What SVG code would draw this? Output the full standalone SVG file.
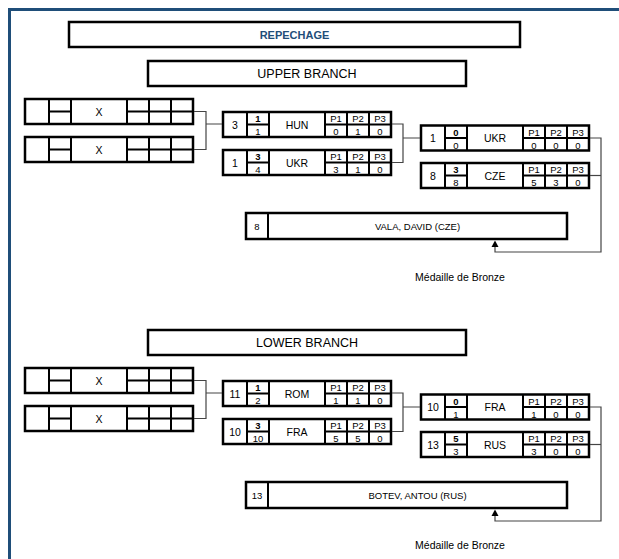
<svg xmlns="http://www.w3.org/2000/svg" xmlns:xlink="http://www.w3.org/1999/xlink" width="619" height="559" viewBox="0 0 619 559">
<style>
.bx{fill:#fff;stroke:#000;stroke-width:2.5}
.ln{stroke:#000;stroke-width:2;fill:none}
.cn{stroke:#444;stroke-width:1.2;fill:none}
.ah{fill:#000}
text{font-family:"Liberation Sans",Arial,sans-serif;fill:#000;text-anchor:middle}
.s{font-size:9.5px}
.b{font-weight:bold}
.n{font-size:10.5px}
.h{font-size:12.5px}
.m{font-size:10.5px}
</style>
<defs>
<g id="grid">
<rect class="bx" x="0" y="0" width="168" height="25"/>
<path class="ln" d="M24,0V25M46,0V25M102,0V25M124,0V25M146,0V25M24,12.5H46M102,12.5H168"/>
</g>
</defs>
<rect x="9.5" y="9.5" width="640" height="600" fill="none" stroke="#1f4e79" stroke-width="3"/>
<g id="title">
<rect class="bx" x="69" y="22" width="451" height="25"/>
<text x="294.5" y="38.5" class="b" style="font-size:11px;fill:#1f4e79">REPECHAGE</text>
</g>
<g id="upper-branch">
<rect class="bx" x="148" y="61" width="318" height="25"/>
<text x="307" y="78" class="h">UPPER BRANCH</text>
</g>
<g id="u-x1"><use xlink:href="#grid" x="25" y="99"/><text x="99" y="115.5" class="n">X</text></g>
<g id="u-x2"><use xlink:href="#grid" x="25" y="137"/><text x="99" y="153.5" class="n">X</text></g>
<g id="u-hun"><use xlink:href="#grid" x="223" y="112"/>
<text x="235" y="128.5" class="n">3</text><text x="258" y="122" class="s b">1</text><text x="258" y="135" class="s">1</text>
<text x="297" y="128.5" class="n">HUN</text>
<text x="336" y="122" class="s">P1</text><text x="358" y="122" class="s">P2</text><text x="380" y="122" class="s">P3</text>
<text x="336" y="135" class="s">0</text><text x="358" y="135" class="s">1</text><text x="380" y="135" class="s">0</text></g>
<g id="u-ukr"><use xlink:href="#grid" x="223" y="150"/>
<text x="235" y="166.5" class="n">1</text><text x="258" y="160" class="s b">3</text><text x="258" y="173" class="s">4</text>
<text x="297" y="166.5" class="n">UKR</text>
<text x="336" y="160" class="s">P1</text><text x="358" y="160" class="s">P2</text><text x="380" y="160" class="s">P3</text>
<text x="336" y="173" class="s">3</text><text x="358" y="173" class="s">1</text><text x="380" y="173" class="s">0</text></g>
<g id="u-ukr2"><use xlink:href="#grid" x="421" y="125.5"/>
<text x="433" y="142" class="n">1</text><text x="456" y="135.5" class="s b">0</text><text x="456" y="148.5" class="s">0</text>
<text x="495" y="142" class="n">UKR</text>
<text x="534" y="135.5" class="s">P1</text><text x="556" y="135.5" class="s">P2</text><text x="578" y="135.5" class="s">P3</text>
<text x="534" y="148.5" class="s">0</text><text x="556" y="148.5" class="s">0</text><text x="578" y="148.5" class="s">0</text></g>
<g id="u-cze"><use xlink:href="#grid" x="421" y="163"/>
<text x="433" y="179.5" class="n">8</text><text x="456" y="173" class="s b">3</text><text x="456" y="186" class="s">8</text>
<text x="495" y="179.5" class="n">CZE</text>
<text x="534" y="173" class="s">P1</text><text x="556" y="173" class="s">P2</text><text x="578" y="173" class="s">P3</text>
<text x="534" y="186" class="s">5</text><text x="556" y="186" class="s">3</text><text x="578" y="186" class="s">0</text></g>
<g id="u-bronze">
<rect class="bx" x="246" y="213" width="321" height="26"/>
<path class="ln" d="M268,213V239"/>
<text x="257" y="229.5" class="s">8</text>
<text x="417.5" y="229.5" class="s">VALA, DAVID (CZE)</text>
</g>
<g id="u-label"><text x="460" y="281" class="m">Médaille de Bronze</text></g>

<g id="lower-branch">
<rect class="bx" x="148" y="330" width="318" height="25"/>
<text x="307" y="347" class="h">LOWER BRANCH</text>
</g>
<g id="l-x1"><use xlink:href="#grid" x="25" y="368"/><text x="99" y="384.5" class="n">X</text></g>
<g id="l-x2"><use xlink:href="#grid" x="25" y="406"/><text x="99" y="422.5" class="n">X</text></g>
<g id="l-rom"><use xlink:href="#grid" x="223" y="381"/>
<text x="235" y="397.5" class="n">11</text><text x="258" y="391" class="s b">1</text><text x="258" y="404" class="s">2</text>
<text x="297" y="397.5" class="n">ROM</text>
<text x="336" y="391" class="s">P1</text><text x="358" y="391" class="s">P2</text><text x="380" y="391" class="s">P3</text>
<text x="336" y="404" class="s">1</text><text x="358" y="404" class="s">1</text><text x="380" y="404" class="s">0</text></g>
<g id="l-fra"><use xlink:href="#grid" x="223" y="419"/>
<text x="235" y="435.5" class="n">10</text><text x="258" y="429" class="s b">3</text><text x="258" y="442" class="s">10</text>
<text x="297" y="435.5" class="n">FRA</text>
<text x="336" y="429" class="s">P1</text><text x="358" y="429" class="s">P2</text><text x="380" y="429" class="s">P3</text>
<text x="336" y="442" class="s">5</text><text x="358" y="442" class="s">5</text><text x="380" y="442" class="s">0</text></g>
<g id="l-fra2"><use xlink:href="#grid" x="421" y="394.5"/>
<text x="433" y="411" class="n">10</text><text x="456" y="404.5" class="s b">0</text><text x="456" y="417.5" class="s">1</text>
<text x="495" y="411" class="n">FRA</text>
<text x="534" y="404.5" class="s">P1</text><text x="556" y="404.5" class="s">P2</text><text x="578" y="404.5" class="s">P3</text>
<text x="534" y="417.5" class="s">1</text><text x="556" y="417.5" class="s">0</text><text x="578" y="417.5" class="s">0</text></g>
<g id="l-rus"><use xlink:href="#grid" x="421" y="432"/>
<text x="433" y="448.5" class="n">13</text><text x="456" y="442" class="s b">5</text><text x="456" y="455" class="s">3</text>
<text x="495" y="448.5" class="n">RUS</text>
<text x="534" y="442" class="s">P1</text><text x="556" y="442" class="s">P2</text><text x="578" y="442" class="s">P3</text>
<text x="534" y="455" class="s">3</text><text x="556" y="455" class="s">0</text><text x="578" y="455" class="s">0</text></g>
<g id="l-bronze">
<rect class="bx" x="246" y="482" width="321" height="26"/>
<path class="ln" d="M268,482V508"/>
<text x="257" y="498.5" class="s">13</text>
<text x="417.5" y="498.5" class="s">BOTEV, ANTOU (RUS)</text>
</g>
<g id="l-label"><text x="460" y="549" class="m">Médaille de Bronze</text></g>

<g id="connectors">
<path class="cn" d="M194,111.5H206V149.5H194M206,124H222"/>
<path class="cn" d="M392,124H403V162.5H392M403,138H420"/>
<path class="cn" d="M590,138H601V252H495V246"/>
<polygon class="ah" points="495,240.5 491.5,247 498.5,247"/>
<path class="cn" d="M590,175.5H601"/>
<path class="cn" d="M194,380.5H206V418.5H194M206,393H222"/>
<path class="cn" d="M392,393H403V431.5H392M403,407H420"/>
<path class="cn" d="M590,407H601V521H495V515"/>
<polygon class="ah" points="495,509.5 491.5,516 498.5,516"/>
<path class="cn" d="M590,444.5H601"/>
</g>
</svg>
